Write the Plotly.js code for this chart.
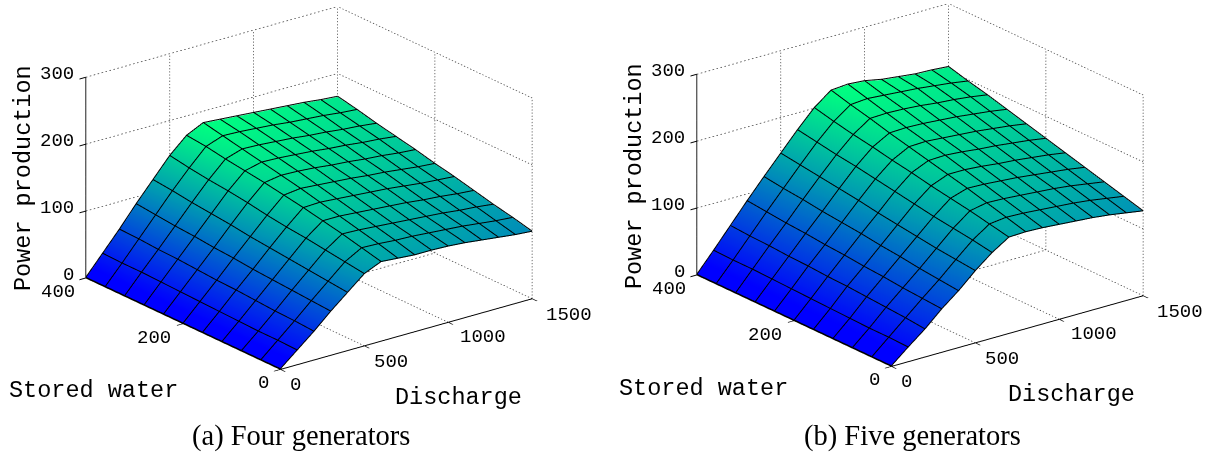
<!DOCTYPE html>
<html><head><meta charset="utf-8">
<script src="https://cdn.plot.ly/plotly-3.0.1.min.js"></script>
<style>html,body{margin:0;padding:0;background:#fff}#c{width:1219px;height:456px}</style>
</head><body><div id="c"></div>
<script>
const discharge=[0,100,200,300,400,500,600,700,800,900,1000,1100,1200,1300,1400,1500];
const storedWater=[0,40,80,120,160,200,240,280,320,360,400];
const powerFour=[
[0,21,42,65,86,107,118,116,114,114,113,111,108,105,102,100],
[0,22,44,67,89,111,125,124,122,121,119,117,115,112,109,107],
[0,22,45,69,92,115,132,131,129,127,125,123,121,118,116,113],
[0,23,47,71,95,119,138,138,136,134,132,130,127,125,122,120],
[0,24,49,73,98,122,144,145,143,141,139,137,134,131,129,127],
[0,25,50,76,101,126,149,152,150,148,146,143,141,138,135,133],
[0,26,52,78,105,131,154,158,157,155,152,150,147,145,142,140],
[0,27,54,81,108,135,158,164,163,161,159,156,154,151,149,146],
[0,28,55,83,111,138,162,170,169,167,165,162,160,157,155,152],
[0,28,57,86,115,142,167,176,175,173,171,168,166,164,161,159],
[0,29,58,89,118,147,170,182,180,178,176,174,172,170,167,165]];
const powerFive=[
[0,21,41,64,84,107,127,143,144,143,141,139,137,134,130,126],
[0,22,44,66,87,110,132,149,152,151,149,147,145,142,138,134],
[0,22,46,68,90,113,136,155,160,159,157,155,153,150,146,142],
[0,23,48,71,94,117,140,160,168,167,165,163,160,157,154,150],
[0,24,50,73,97,121,145,165,175,175,173,170,168,165,162,158],
[0,25,51,76,101,125,150,171,182,183,181,178,176,173,170,166],
[0,26,53,78,104,130,155,176,189,190,188,186,184,181,178,174],
[0,27,54,81,107,134,160,182,196,197,196,194,192,189,186,182],
[0,28,56,83,111,138,164,187,204,205,204,202,199,197,194,190],
[0,28,57,86,114,142,169,193,211,213,211,209,207,204,201,197],
[0,29,59,89,118,146,174,200,219,221,219,214,211,208,207,205]];
const xTicks=[0,500,1000,1500], yTicks=[0,200,400], zTicks=[0,100,200,300];
const captions=['(a) Four generators','(b) Five generators'];
const xTitle='Discharge', yTitle='Stored water', zTitle='Power production';
const winter=[[0,'rgb(0,0,255)'],[0.06,'rgb(0,0,255)'],[0.6,'rgb(0,153,179)'],[1,'rgb(0,255,128)']];
const mono='"Liberation Mono","Courier New",monospace';

function grid(sc){
  const X=[],Y=[],Z=[];
  const seg=(a,b)=>{
    const n=Math.round(Math.hypot((b[0]-a[0])/1500,(b[1]-a[1])/400,(b[2]-a[2])/300)*64);
    for(let i=0;i<n;i++){
      const f=i/n, g=(i+0.4)/n;
      X.push(a[0]+(b[0]-a[0])*f,a[0]+(b[0]-a[0])*g,null);
      Y.push(a[1]+(b[1]-a[1])*f,a[1]+(b[1]-a[1])*g,null);
      Z.push(a[2]+(b[2]-a[2])*f,a[2]+(b[2]-a[2])*g,null);
    }
  };
  const xm=1500,ym=400,zm=300;
  xTicks.forEach(t=>{ if(t>0) seg([t,0,0],[t,ym,0]); seg([t,ym,0],[t,ym,zm]); });
  yTicks.forEach(t=>{ if(t>0) seg([0,t,0],[xm,t,0]); seg([xm,t,0],[xm,t,zm]); });
  zTicks.forEach(t=>{ if(t>0){ seg([0,ym,t],[xm,ym,t]); seg([xm,0,t],[xm,ym,t]); } });
  return {type:'scatter3d',mode:'lines',scene:sc,x:X,y:Y,z:Z,hoverinfo:'skip',showlegend:false,
    connectgaps:false,line:{color:'#444',width:1.5}};
}
function surf(sc,z,zmax){
  return {type:'surface',scene:sc,x:discharge,y:storedWater,z:z,showscale:false,hoverinfo:'skip',
    colorscale:winter,cmin:0,cmax:zmax,
    lighting:{ambient:1,diffuse:0,specular:0,roughness:1,fresnel:0},
    contours:{x:{highlight:false},y:{highlight:false},z:{highlight:false}}};
}
function mesh(sc,z){
  const X=[],Y=[],Z=[],lift=1;
  storedWater.forEach((y,j)=>{discharge.forEach((x,i)=>{X.push(x);Y.push(y);Z.push(z[j][i]+lift);});X.push(null);Y.push(null);Z.push(null);});
  discharge.forEach((x,i)=>{storedWater.forEach((y,j)=>{X.push(x);Y.push(y);Z.push(z[j][i]+lift);});X.push(null);Y.push(null);Z.push(null);});
  return {type:'scatter3d',mode:'lines',scene:sc,x:X,y:Y,z:Z,hoverinfo:'skip',showlegend:false,
    connectgaps:false,line:{color:'#000',width:2}};
}
function axis(ticks,max){
  return {title:{text:''},range:[0,max],tickvals:ticks,showticklabels:false,
    showgrid:false,zeroline:false,showbackground:false,
    showline:true,linecolor:'#000',linewidth:2,ticks:'outside',ticklen:8,tickcolor:'#000',tickwidth:2,showspikes:false};
}
function lab(x,y,z,t,dx,dy,anchor){
  return {x:x,y:y,z:z,text:String(t),showarrow:false,xanchor:anchor||'center',yanchor:'middle',xshift:dx,yshift:dy,
    font:{family:mono,size:19,color:'#000'}};
}
function tickLabels(){
  const xOff=[[15,-16],[27,-16],[35,-15],[37,-16]];
  const yOff=[[-17,-14],[-29,-14],[-28,-14]];
  const out=[];
  xTicks.forEach((t,i)=>out.push(lab(t,0,0,t,xOff[i][0],xOff[i][1])));
  yTicks.forEach((t,i)=>out.push(lab(0,t,0,t,yOff[i][0],yOff[i][1])));
  zTicks.forEach(t=>out.push(lab(0,400,t,t,-10,3,'right')));
  return out;
}
const R=2, el=21.3*Math.PI/180, phi=37.7*Math.PI/180, zoom=1.72;
function scene(dx,dy){
  return {domain:{x:dx,y:dy},bgcolor:'#fff',aspectmode:'manual',aspectratio:{x:zoom,y:zoom,z:0.677*zoom},
    camera:{projection:{type:'orthographic'},up:{x:0,y:0,z:1},center:{x:0,y:0,z:0},
      eye:{x:-R*Math.sin(phi)*Math.cos(el),y:-R*Math.cos(phi)*Math.cos(el),z:R*Math.sin(el)}},
    xaxis:axis(xTicks,1500),yaxis:axis(yTicks,400),zaxis:axis(zTicks,300),annotations:tickLabels()};
}
function paper(text,px,py,size,fam,angle){
  return {text:text,xref:'paper',yref:'paper',x:px/1219,y:1-py/456,showarrow:false,xanchor:'center',yanchor:'middle',
    textangle:angle||0,font:{family:fam,size:size,color:'#000'}};
}
const data=[surf('scene',powerFour,182),mesh('scene',powerFour),grid('scene'),surf('scene2',powerFive,221),mesh('scene2',powerFive),grid('scene2')];
const serif='"Liberation Serif",serif';
const layout={width:1219,height:456,margin:{l:0,r:0,t:0,b:0},paper_bgcolor:'#fff',showlegend:false,
  scene:scene([19/1219,599/1219],[83/456,453/456]),
  scene2:scene([630/1219,1210/1219],[86/456,1]),
  annotations:[
   paper(captions[0],301,436,28.5,serif), paper(captions[1],912,436,28.5,serif),
   paper(yTitle,93,390,23.5,mono), paper(xTitle,458,397,23.5,mono), paper(zTitle,23,178,23.5,mono,-90),
   paper(yTitle,703,388,23.5,mono), paper(xTitle,1071,394,23.5,mono), paper(zTitle,634,176,23.5,mono,-90)]};
Plotly.newPlot('c',data,layout,{displayModeBar:false});
</script></body></html>
